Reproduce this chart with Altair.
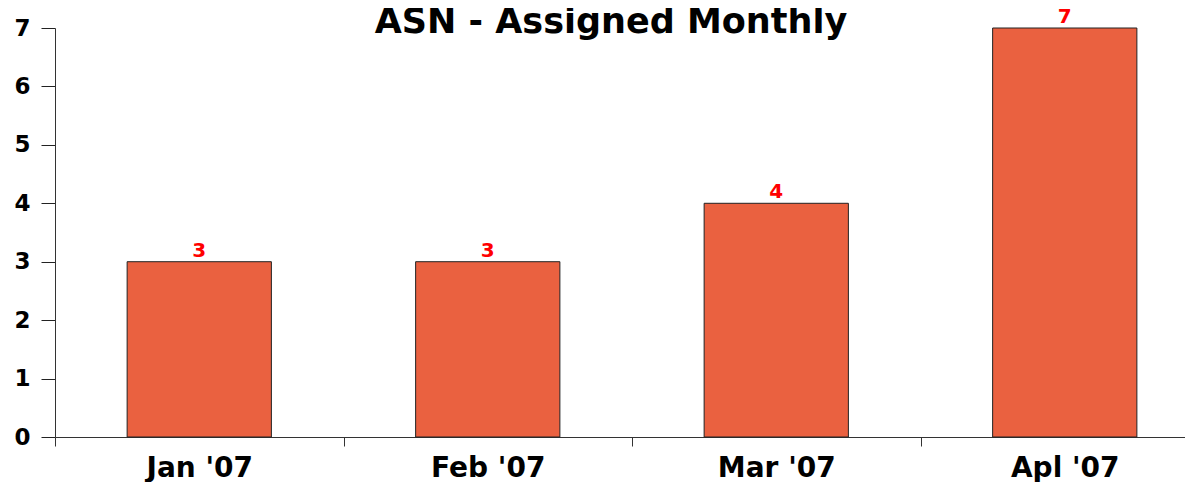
import altair as alt
import pandas as pd

months = ["Jan '07", "Feb '07", "Mar '07", "Apl '07"]
values = [3, 3, 4, 7]

df = pd.DataFrame({"month": months, "value": values})

FONT = "DejaVu Sans"

base = alt.Chart(df).encode(
    x=alt.X(
        "month:N",
        sort=months,
        title=None,
        scale=alt.Scale(range=[0, 1154], paddingInner=0, paddingOuter=0),
        axis=alt.Axis(
            labelAngle=0,
            labelFont=FONT,
            labelFontWeight="bold",
            labelFontSize=28,
            labelColor="black",
            labelPadding=8,
            tickBand="extent",
            tickSize=9,
            tickColor="#333",
            domainColor="#333",
            grid=False,
        ),
    ),
    y=alt.Y(
        "value:Q",
        title=None,
        scale=alt.Scale(domain=[0, 7], nice=False),
        axis=alt.Axis(
            values=list(range(0, 8)),
            labelFont=FONT,
            labelFontWeight="bold",
            labelFontSize=23,
            labelColor="black",
            labelPadding=11,
            tickSize=14,
            tickColor="#222",
            domainColor="#333",
            grid=False,
        ),
    ),
)

bars = base.mark_bar(
    color="#EA6140", stroke="#222", strokeWidth=1,
    width=alt.RelativeBandSize(0.5),
)
labels = base.mark_text(
    baseline="alphabetic",
    dy=-5,
    font=FONT,
    fontWeight="bold",
    fontSize=20,
    color="red",
).encode(text="value:Q")

chart = (
    (bars + labels)
    .properties(
        width=1130,
        height=409,
        autosize=alt.AutoSizeParams(type="none"),
        padding={"left": 47, "top": 20, "right": 0, "bottom": 45},
        title=alt.TitleParams(
            "ASN - Assigned Monthly",
            font=FONT,
            fontWeight="bold",
            fontSize=35,
            color="black",
            anchor="middle",
            frame="group",
            baseline="alphabetic",
            offset=0,
            dy=61,
            dx=-9,
        ),
    )
    .configure_view(stroke=None)
)

chart.save("out.html", embed_options={"renderer": "svg", "actions": False})
